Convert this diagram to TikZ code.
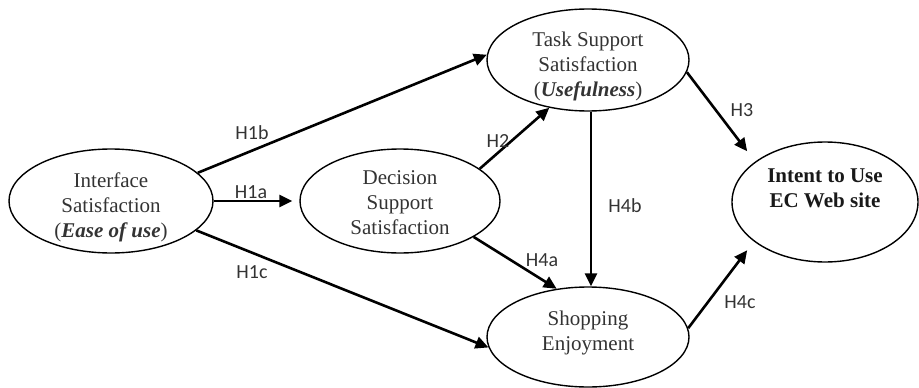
\documentclass[tikz,border=0pt]{standalone}
\usepackage{fontspec}
\setmainfont{Liberation Serif}
\newfontfamily\hypfont{Carlito}
\usetikzlibrary{arrows.meta,shapes.geometric}

\begin{document}
\begin{tikzpicture}[x=1pt,y=-1pt,
  construct/.style={ellipse, draw, line width=1.4pt, inner sep=0pt},
  ctext/.style={align=center, inner sep=0pt, font=\fontsize{21}{25}\selectfont, text=black!80},
  link/.style={line width=2.6pt, -{Triangle[length=13pt,width=12pt]}},
  hyp/.style={inner sep=0pt, font=\hypfont\fontsize{20}{24}\selectfont, text=black!80}]
\useasboundingbox (0,0) rectangle (919,388);

% constructs
\node[construct, minimum width=204pt, minimum height=104pt] (iface)  at (111,201) {};
\node[construct, minimum width=202pt, minimum height=102pt] (task)   at (588,60)  {};
\node[construct, minimum width=200pt, minimum height=104pt] (dec)    at (400,201) {};
\node[construct, minimum width=202pt, minimum height=100pt] (shop)   at (588,337) {};
\node[construct, minimum width=186pt, minimum height=120pt] (intent) at (825,202) {};

% construct names
\node[ctext] (ifaceTxt)  at (111,207) {Interface\\Satisfaction\\(\textbf{\textit{Ease of use}})};
\node[ctext] (taskTxt)   at (588,66)  {Task Support\\Satisfaction\\(\textbf{\textit{Usefulness}})};
\node[ctext] (decTxt)    at (400,203) {Decision\\Support\\Satisfaction};
\node[ctext] (shopTxt)   at (588,333) {Shopping\\Enjoyment};
\node[ctext, text=black!90, font=\fontsize{21}{25}\selectfont\bfseries] (intentTxt) at (825,188) {Intent to Use\\EC Web site};

% hypothesised paths
\draw[link] (iface.18.6) -- (task.177);
\draw[link, shorten >=7pt] (iface.0) -- (dec.180);
\draw[link] (iface.-19) -- (shop.186);
\draw[link] (dec.22) -- (task.231);
\draw[link] (dec.-26) -- (shop.123);
\draw[link] ([xshift=3pt]task.south) -- ([xshift=3pt]shop.north);
\draw[link, shorten >=13pt] (task.-7.5) -- (intent.150);
\draw[link, shorten >=11pt] (shop.5) -- (intent.209);

% path labels
\node[hyp] (h1b) at (252,133) {H1b};
\node[hyp] (h1a) at (251,192) {H1a};
\node[hyp] (h1c) at (252,272) {H1c};
\node[hyp] (h2)  at (498,141) {H2};
\node[hyp] (h4a) at (542,260) {H4a};
\node[hyp] (h4b) at (625,206) {H4b};
\node[hyp] (h3)  at (742,110) {H3};
\node[hyp] (h4c) at (740,302) {H4c};
\end{tikzpicture}
\end{document}
